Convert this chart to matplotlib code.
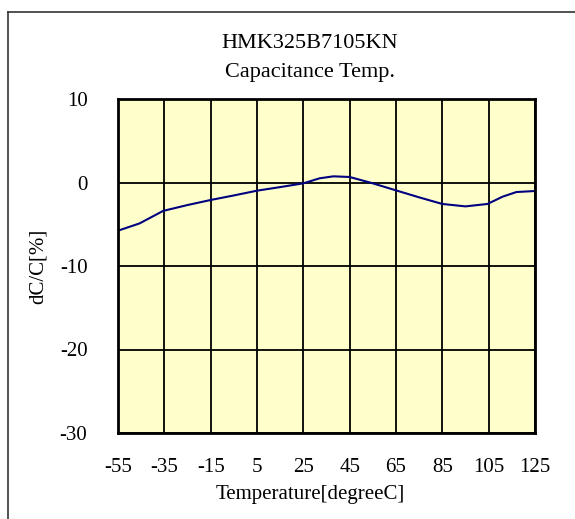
import numpy as np
import matplotlib.pyplot as plt
from matplotlib.lines import Line2D

# data
temp = [-55, -45.7, -35.5, -25, -15.1, -5, 5, 15, 25, 32, 38, 45, 55, 64.5, 75, 85, 95, 104.5, 111, 117, 125]
dcc = [-5.77, -4.9, -3.4, -2.7, -2.1, -1.55, -0.98, -0.55, -0.1, 0.5, 0.74, 0.66, -0.1, -0.9, -1.78, -2.57, -2.86, -2.57, -1.7, -1.14, -1.02]
xticks = [-55, -35, -15, 5, 25, 45, 65, 85, 105, 125]
yticks = [-30, -20, -10, 0, 10]

plt.rcParams['font.family'] = ['Liberation Serif', 'DejaVu Serif']
plt.rcParams['axes.unicode_minus'] = False

fig = plt.figure(figsize=(5.75, 5.19), dpi=100)
ax = fig.add_axes([118/575, 1-433/519, 417/575, 334/519])
ax.set_facecolor('#FFFFCC')

ax.plot(temp, dcc, color='#000080', lw=1.5)

ax.set_xlim(-55, 125)
ax.set_ylim(-30, 10)
ax.set_xticks(xticks)
ax.set_yticks(yticks)
ax.grid(True, color='black', lw=1.3)
ax.set_axisbelow(True)
for s in ax.spines.values():
    s.set_linewidth(2)
ax.tick_params(length=0, labelsize=15)
ax.tick_params(axis='x', pad=18)
ax.tick_params(axis='y', pad=22)

ax.set_xlabel('Temperature[degreeC]', fontsize=15, va='center')
ax.set_ylabel('dC/C[%]', fontsize=15, va='center')
ax.xaxis.set_label_coords((310-118)/417, (433-495)/334)
ax.yaxis.set_label_coords((38-118)/417, 0.5)
fig.text(310/575, 1-43/519, 'HMK325B7105KN', ha='center', va='center', fontsize=16)
fig.text(310/575, 1-73/519, 'Capacitance Temp.', ha='center', va='center', fontsize=16)

# outer frame (only left and top visible)
fig.add_artist(Line2D([8/575, 8/575], [0, 1-12/519], color='#333333', lw=1.2))
fig.add_artist(Line2D([8/575, 1], [1-12/519, 1-12/519], color='#333333', lw=1.2))

fig.savefig('out.png', dpi=100)
